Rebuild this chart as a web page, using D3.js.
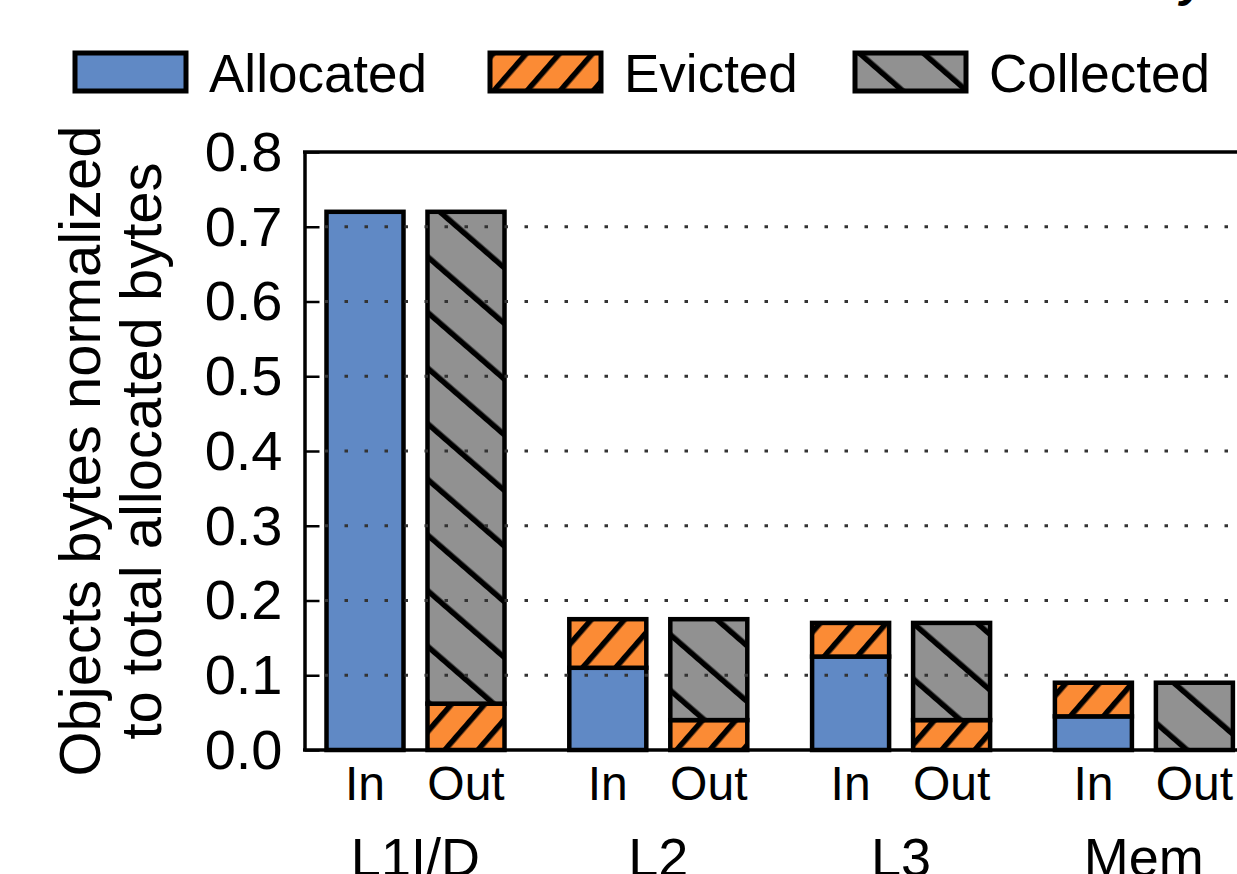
<!DOCTYPE html>
<html>
<head>
<meta charset="utf-8">
<script src="https://cdn.jsdelivr.net/npm/d3@7"></script>
<style>
  html, body { margin: 0; padding: 0; background: #fff; }
  svg { display: block; font-family: "Liberation Sans", Arial, Helvetica, sans-serif; }
</style>
</head>
<body>
<svg id="chart" width="1237" height="874"></svg>
<script>
// Cache levels and the two bars drawn for each of them
const levels = ["L1I/D", "L2", "L3", "Mem"];
const sides = ["In", "Out"];

// "In" bars: allocated bytes with evicted bytes stacked on top
const allocatedIn = [0.72, 0.11, 0.125, 0.045];
const evictedIn = [0.0, 0.065, 0.045, 0.045];

// "Out" bars: evicted bytes with collected bytes stacked on top
const evictedOut = [0.062, 0.04, 0.04, 0.0];
const collectedOut = [0.658, 0.135, 0.13, 0.09];

const yTicks = [0.0, 0.1, 0.2, 0.3, 0.4, 0.5, 0.6, 0.7, 0.8];
const gridTicks = [0.1, 0.2, 0.3, 0.4, 0.5, 0.6, 0.7];

const seriesNames = ["Allocated", "Evicted", "Collected"];
const colors = { Allocated: "#6089c5", Evicted: "#fb8b35", Collected: "#919191" };

const svg = d3.select("#chart");
const W = 1237;

const plot = { left: 304.5, top: 152, bottom: 750, right: 1265 };

const y = d3.scaleLinear().domain([0, 0.8]).range([plot.bottom, plot.top]);
const xGroup = d3.scaleBand().domain(levels).range([294, 294 + 4 * 242.8]).padding(0);
const xSide = d3.scaleBand().domain(sides).range([32.5, 210.5]).paddingInner(0.2376).paddingOuter(0);

// Hatch fills
const defs = svg.append("defs");
function hatch(id, fill, spacing, angle, lineW) {
  const p = defs.append("pattern")
    .attr("id", id)
    .attr("patternUnits", "userSpaceOnUse")
    .attr("width", spacing).attr("height", 20)
    .attr("patternTransform", `rotate(${angle})`);
  p.append("rect").attr("width", spacing).attr("height", 20).attr("fill", fill);
  p.append("rect").attr("x", 0).attr("width", lineW).attr("height", 20).attr("fill", "#000");
}
hatch("hatch-evicted", colors.Evicted, 25, 41, 5.5);
hatch("hatch-collected", colors.Collected, 42, -49, 5.5);

const fills = {
  Allocated: colors.Allocated,
  Evicted: "url(#hatch-evicted)",
  Collected: "url(#hatch-collected)"
};

// Build stacked segments
const segments = [];
levels.forEach((lv, i) => {
  const inStack = [["Allocated", allocatedIn[i]], ["Evicted", evictedIn[i]]];
  const outStack = [["Evicted", evictedOut[i]], ["Collected", collectedOut[i]]];
  [["In", inStack], ["Out", outStack]].forEach(([side, stack]) => {
    let base = 0;
    stack.forEach(([name, v]) => {
      if (v > 0) segments.push({ level: lv, side, name, y0: base, y1: base + v });
      base += v;
    });
  });
});

// Bars
svg.append("g").selectAll("rect")
  .data(segments)
  .join("rect")
  .attr("x", d => xGroup(d.level) + xSide(d.side))
  .attr("width", xSide.bandwidth())
  .attr("y", d => y(d.y1))
  .attr("height", d => y(d.y0) - y(d.y1))
  .attr("fill", d => fills[d.name])
  .attr("stroke", "#000")
  .attr("stroke-width", 4.5);

// Dotted grid lines, drawn over the bars
svg.append("g").selectAll("line")
  .data(gridTicks)
  .join("line")
  .attr("x1", plot.left + 20).attr("x2", W)
  .attr("y1", d => y(d)).attr("y2", d => y(d))
  .attr("stroke", "#333")
  .attr("stroke-width", 3)
  .attr("stroke-dasharray", "3.5,16.5");

// Y axis with inward ticks
const yAxis = d3.axisLeft(y)
  .tickValues(yTicks)
  .tickFormat(d3.format(".1f"))
  .tickSizeInner(-15)
  .tickSizeOuter(0)
  .tickPadding(22);
const gy = svg.append("g")
  .attr("transform", `translate(${plot.left},0)`)
  .call(yAxis);
gy.select(".domain").attr("stroke", "#000").attr("stroke-width", 3.5);
gy.selectAll(".tick line").attr("stroke", "#000").attr("stroke-width", 2.5);
gy.selectAll(".tick text")
  .attr("font-size", 56)
  .attr("fill", "#000")
  .attr("dy", "0.33em")
  .attr("font-family", "'Liberation Sans', Arial, sans-serif");

// Frame top and bottom
svg.append("line")
  .attr("x1", plot.left - 1.5).attr("x2", W)
  .attr("y1", plot.top).attr("y2", plot.top)
  .attr("stroke", "#000").attr("stroke-width", 3.5);
svg.append("line")
  .attr("x1", plot.left - 1.5).attr("x2", W)
  .attr("y1", plot.bottom).attr("y2", plot.bottom)
  .attr("stroke", "#000").attr("stroke-width", 3.5);

// In / Out labels under each bar
const sideLabels = [];
levels.forEach(lv => sides.forEach(s => sideLabels.push({ level: lv, side: s })));
svg.append("g").selectAll("text")
  .data(sideLabels)
  .join("text")
  .attr("x", d => xGroup(d.level) + xSide(d.side) + xSide.bandwidth() / 2)
  .attr("y", 800)
  .attr("text-anchor", "middle")
  .attr("font-size", 48)
  .text(d => d.side);

// Level labels
svg.append("g").selectAll("text")
  .data(levels)
  .join("text")
  .attr("x", d => xGroup(d) + xGroup.bandwidth() / 2)
  .attr("y", 876)
  .attr("text-anchor", "middle")
  .attr("font-size", 54)
  .text(d => d);

// Y axis title, two lines
const yTitle = ["Objects bytes normalized", "to total allocated bytes"];
const yTitleX = [100, 161];
svg.append("g").selectAll("text")
  .data(yTitle)
  .join("text")
  .attr("transform", (d, i) => `translate(${yTitleX[i]},${(plot.top + plot.bottom) / 2}) rotate(-90)`)
  .attr("text-anchor", "middle")
  .attr("font-size", 58)
  .text(d => d);

// Legend
const legendX = [75, 490, 855];
const lg = svg.append("g").selectAll("g")
  .data(seriesNames)
  .join("g")
  .attr("transform", (d, i) => `translate(${legendX[i]},53)`);
lg.append("rect")
  .attr("width", 111).attr("height", 38)
  .attr("fill", d => fills[d])
  .attr("stroke", "#000").attr("stroke-width", 5);
lg.append("text")
  .attr("x", 134).attr("y", 39)
  .attr("font-size", 53)
  .text(d => d);

// Fragment of the heading above the figure
svg.append("text")
  .attr("x", 1180).attr("y", -4)
  .attr("font-size", 48)
  .attr("font-weight", "bold")
  .attr("font-style", "italic")
  .text("y");
</script>
</body>
</html>
